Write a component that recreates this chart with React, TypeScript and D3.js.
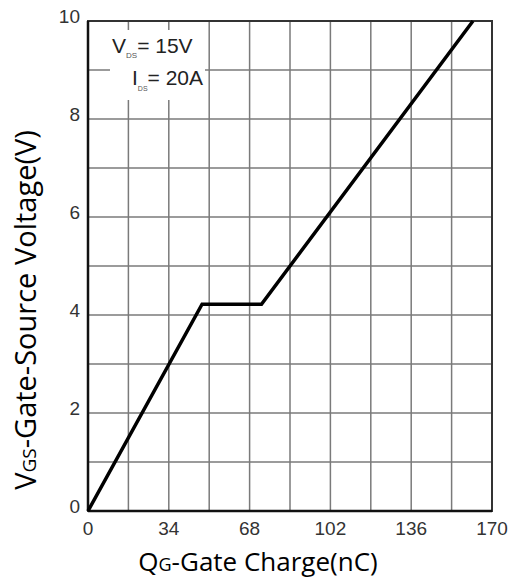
import React from "react";
import * as d3 from "d3";

const xTicks = [0, 34, 68, 102, 136, 170];
const yTicks = [0, 2, 4, 6, 8, 10];
const xGrid = [0, 17, 34, 51, 68, 85, 102, 119, 136, 153, 170];
const yGrid = [0, 1, 2, 3, 4, 5, 6, 7, 8, 9, 10];
const chargeNC = [0, 48, 73, 162];
const gateVoltage = [0, 4.22, 4.22, 10];

const W = 518;
const H = 586;
const M = { left: 88, right: 492, top: 21, bottom: 511 };

export default function App() {
  const x = d3.scaleLinear().domain([0, 170]).range([M.left, M.right]);
  const y = d3.scaleLinear().domain([0, 10]).range([M.bottom, M.top]);
  const pts: [number, number][] = chargeNC.map((c, i) => [c, gateVoltage[i]]);
  const line = d3
    .line<[number, number]>()
    .x((d) => x(d[0]))
    .y((d) => y(d[1]));
  const tickFont = "'Liberation Sans', Arial, sans-serif";
  const titleFont = "'Open Sans', 'Noto Sans', sans-serif";
  return (
    <svg
      width={W}
      height={H}
      style={{ position: "absolute", left: 0, top: 0, background: "#fff" }}
    >
      <rect x={0} y={0} width={W} height={H} fill="#fff" />
      {xGrid.map((g) => (
        <line
          key={"xg" + g}
          x1={x(g)}
          x2={x(g)}
          y1={y(0)}
          y2={y(10)}
          stroke="#7a7a7a"
          strokeWidth={1.5}
        />
      ))}
      {yGrid.map((g) => (
        <line
          key={"yg" + g}
          x1={x(0)}
          x2={x(170)}
          y1={y(g)}
          y2={y(g)}
          stroke="#7a7a7a"
          strokeWidth={1.5}
        />
      ))}
      <rect x={110} y={30} width={95} height={70} fill="#fff" />
      <text x={112} y={53} fontFamily={tickFont} fontSize={21} fill="#222">
        V
        <tspan fontSize={8} dy={5} fill="#555">DS</tspan>
        <tspan dy={-5}>= 15V</tspan>
      </text>
      <text x={132} y={85} fontFamily={tickFont} fontSize={21} fill="#222">
        I
        <tspan fontSize={7} dy={6} fill="#555">DS</tspan>
        <tspan dy={-6}>= 20A</tspan>
      </text>
      <rect
        x={x(0)}
        y={y(10)}
        width={x(170) - x(0)}
        height={y(0) - y(10)}
        fill="none"
        stroke="#333"
        strokeWidth={2}
      />
      <line x1={x(0)} x2={x(0)} y1={y(0)} y2={y(10)} stroke="#111" strokeWidth={2.5} />
      <line x1={x(0)} x2={x(170)} y1={y(0)} y2={y(0)} stroke="#111" strokeWidth={2.5} />
      <path
        d={line(pts) || ""}
        fill="none"
        stroke="#000"
        strokeWidth={3.5}
        strokeLinejoin="miter"
      />
      {yTicks.map((t) => (
        <text
          key={"yt" + t}
          x={x(0) - 8}
          y={y(t) + 2}
          textAnchor="end"
          fontFamily={tickFont}
          fontSize={19}
          fill="#333"
        >
          {t}
        </text>
      ))}
      {xTicks.map((t) => (
        <text
          key={"xt" + t}
          x={x(t)}
          y={y(0) + 24}
          textAnchor="middle"
          fontFamily={tickFont}
          fontSize={19}
          fill="#333"
        >
          {t}
        </text>
      ))}
      <text
        x={258}
        y={571}
        textAnchor="middle"
        fontFamily={titleFont}
        fontSize={26}
        fill="#000"
      >
        Q<tspan fontSize={18}>G</tspan>-Gate Charge(nC)
      </text>
      <text
        transform={`translate(36,310) rotate(-90)`}
        textAnchor="middle"
        fontFamily={titleFont}
        fontSize={29}
        fill="#000"
      >
        V<tspan fontSize={19}>GS</tspan>-Gate-Source Voltage(V)
      </text>
    </svg>
  );
}
